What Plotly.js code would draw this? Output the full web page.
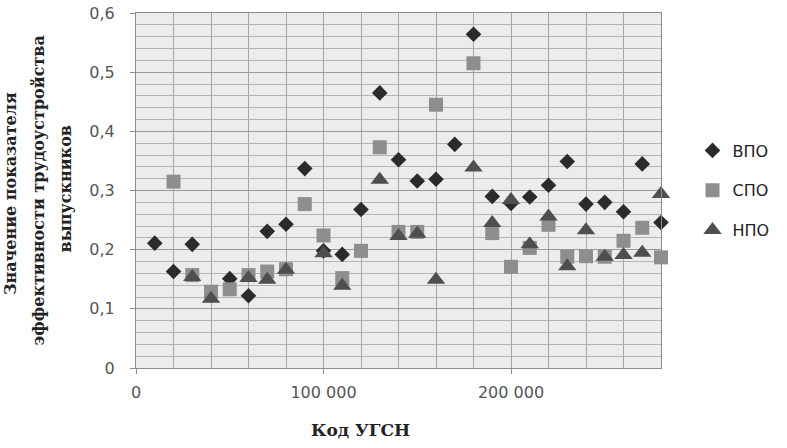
<!DOCTYPE html>
<html>
<head>
<meta charset="utf-8">
<script src="https://cdn.plot.ly/plotly-3.0.1.min.js"></script>
<style>
  html, body { margin: 0; padding: 0; background: #fff; }
  #chart { width: 787px; height: 448px; }
</style>
</head>
<body>
<div id="chart"></div>
<script>
// коды УГСН и значения показателя по уровням образования
var vpoCodes = [10000, 20000, 30000, 50000, 60000, 70000, 80000, 90000, 100000, 110000,
  120000, 130000, 140000, 150000, 160000, 170000, 180000, 190000, 200000, 210000,
  220000, 230000, 240000, 250000, 260000, 270000, 280000];
var vpoValues = [0.211, 0.163, 0.209, 0.151, 0.122, 0.231, 0.243, 0.337, 0.198, 0.192,
  0.268, 0.465, 0.352, 0.316, 0.319, 0.378, 0.564, 0.29, 0.278, 0.289,
  0.309, 0.349, 0.277, 0.28, 0.264, 0.345, 0.246];

var spoCodes = [20000, 30000, 40000, 50000, 60000, 70000, 80000, 90000, 100000, 110000,
  120000, 130000, 140000, 150000, 160000, 180000, 190000, 200000, 210000, 220000,
  230000, 240000, 250000, 260000, 270000, 280000];
var spoValues = [0.315, 0.157, 0.129, 0.133, 0.157, 0.163, 0.167, 0.277, 0.224, 0.152,
  0.198, 0.373, 0.23, 0.23, 0.445, 0.515, 0.228, 0.171, 0.203, 0.242,
  0.188, 0.189, 0.188, 0.215, 0.237, 0.187];

var npoCodes = [30000, 40000, 60000, 70000, 80000, 100000, 110000, 130000, 140000, 150000,
  160000, 180000, 190000, 200000, 210000, 220000, 230000, 240000, 250000, 260000,
  270000, 280000];
var npoValues = [0.154, 0.117, 0.152, 0.149, 0.166, 0.194, 0.139, 0.318, 0.223, 0.227,
  0.149, 0.339, 0.245, 0.284, 0.209, 0.256, 0.172, 0.233, 0.188, 0.191,
  0.195, 0.294];

var seriesNames = ["ВПО", "СПО", "НПО"];

var vpo = {
  x: vpoCodes, y: vpoValues, name: seriesNames[0],
  type: "scatter", mode: "markers", legendgroup: "a", cliponaxis: false,
  marker: { symbol: "diamond", size: 12, color: "#2b2b2b" }
};
var spo = {
  x: spoCodes, y: spoValues, name: seriesNames[1],
  type: "scatter", mode: "markers", legendgroup: "b", cliponaxis: false,
  marker: { symbol: "square", size: 14, color: "#8e8e8e" }
};
var npo = {
  x: npoCodes, y: npoValues, name: seriesNames[2],
  type: "scatter", mode: "markers", legendgroup: "c", cliponaxis: false,
  marker: { symbol: "triangle-up", size: 16, color: "#4f4f4f" }
};

var titleFont = { family: "DejaVu Serif", size: 16, color: "#222" };

var layout = {
  width: 787,
  height: 448,
  margin: { l: 136, r: 120, t: 13, b: 80 },
  paper_bgcolor: "#ffffff",
  plot_bgcolor: "#ececec",
  separators: ", ",
  font: { family: "DejaVu Sans", size: 16, color: "#555" },
  showlegend: true,
  legend: {
    x: 1.06, y: 0.5, xanchor: "left", yanchor: "middle",
    traceorder: "grouped", tracegroupgap: 16,
    font: { family: "DejaVu Sans", size: 16, color: "#222" },
    itemwidth: 30
  },
  xaxis: {
    range: [0, 280000],
    dtick: 100000,
    tickformat: ",d",
    showgrid: true, gridcolor: "#a6a6a6", gridwidth: 1,
    minor: { dtick: 20000, showgrid: true, gridcolor: "#a6a6a6", gridwidth: 1 },
    showline: true, linecolor: "#8c8c8c", mirror: true,
    ticks: "outside", ticklen: 5, tickcolor: "#8c8c8c",
    ticklabelstandoff: 5,
    zeroline: false
  },
  yaxis: {
    range: [0, 0.6],
    dtick: 0.1,
    showgrid: true, gridcolor: "#9a9a9a", gridwidth: 1,
    minor: { dtick: 0.02, showgrid: true, gridcolor: "#b4b4b4", gridwidth: 1 },
    showline: true, linecolor: "#8c8c8c", mirror: true,
    ticks: "outside", ticklen: 5, tickcolor: "#8c8c8c",
    ticklabelstandoff: 12,
    zeroline: false
  },
  annotations: [
    { text: "<b>Код УГСН</b>", xref: "paper", yref: "paper",
      x: (363 - 136) / 531, y: -0.175, xanchor: "center", yanchor: "middle",
      showarrow: false, font: { family: "DejaVu Serif", size: 17, color: "#222" } },
    { text: "<b>Значение показателя</b>", textangle: -90, xref: "paper", yref: "paper",
      x: -0.24, y: 0.49, xanchor: "center", yanchor: "middle",
      showarrow: false, font: titleFont },
    { text: "<b>эффективности трудоустройства</b>", textangle: -90, xref: "paper", yref: "paper",
      x: -0.185, y: 0.5, xanchor: "center", yanchor: "middle",
      showarrow: false, font: titleFont },
    { text: "<b>выпускников</b>", textangle: -90, xref: "paper", yref: "paper",
      x: -0.134, y: 0.505, xanchor: "center", yanchor: "middle",
      showarrow: false, font: titleFont }
  ]
};

Plotly.newPlot("chart", [vpo, spo, npo], layout, { displayModeBar: false, staticPlot: true });
</script>
</body>
</html>
